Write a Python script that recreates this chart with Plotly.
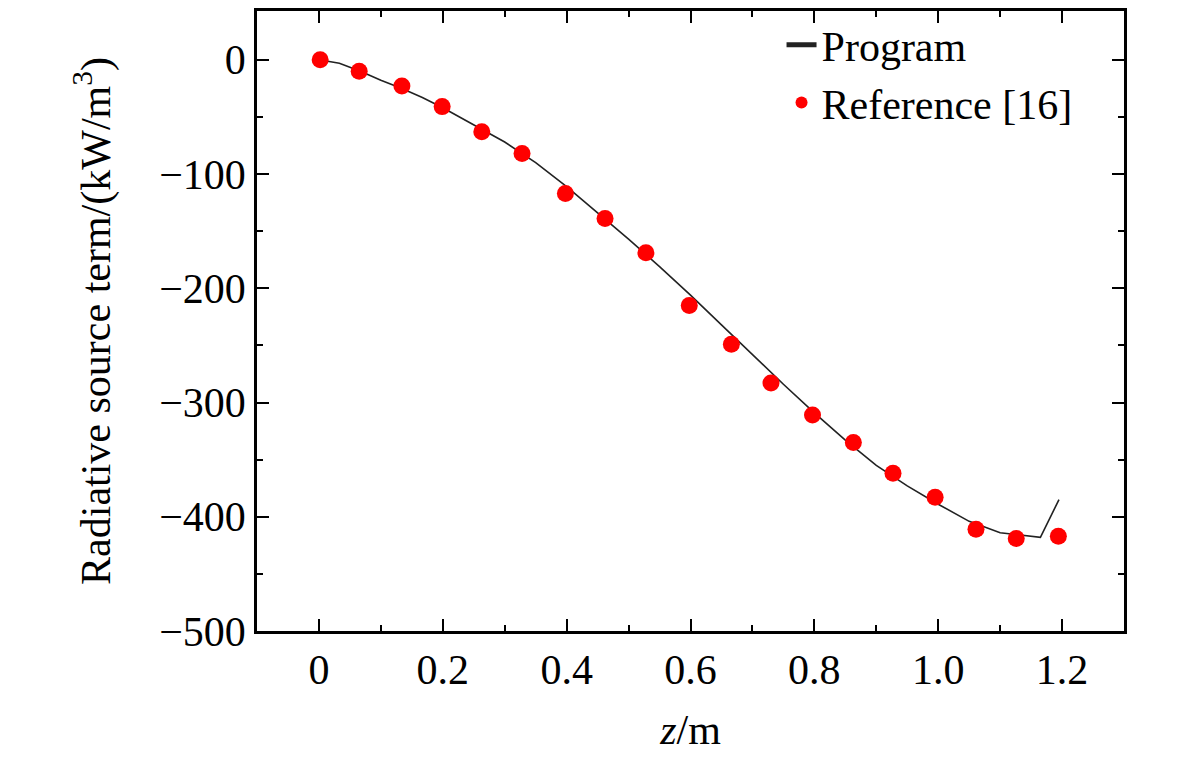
import plotly.graph_objects as go

# program curve
z_prog = [0, 0.033, 0.067, 0.1, 0.133, 0.167, 0.2, 0.25, 0.3, 0.35, 0.4, 0.45,
          0.5, 0.55, 0.6, 0.65, 0.7, 0.75, 0.8, 0.85, 0.9, 0.95, 1.0, 1.05,
          1.1, 1.165, 1.195]
q_prog = [0, -3, -10, -18, -25, -33, -42, -57, -72, -90, -111, -134,
          -157, -181, -206, -232, -258, -284, -309, -333, -355, -373, -389, -404,
          -414, -418, -385]

# reference [16] points
z_ref = [0.002, 0.065, 0.134, 0.199, 0.263, 0.328, 0.398, 0.462, 0.528, 0.598,
         0.666, 0.730, 0.797, 0.863, 0.927, 0.995, 1.061, 1.126, 1.194]
q_ref = [0, -10, -23, -41, -63, -82, -117, -139, -169, -215,
         -249, -283, -311, -335, -362, -383, -411, -419, -417]

font = dict(family="Liberation Serif, Times New Roman, serif", size=42, color="black")

fig = go.Figure()
fig.add_trace(go.Scatter(
    x=z_prog, y=q_prog, mode="lines", name="Program",
    line=dict(color="#222222", width=1.6),
))
fig.add_trace(go.Scatter(
    x=z_ref, y=q_ref, mode="markers", name="Reference [16]",
    marker=dict(color="#ff0000", size=17, line=dict(width=0)),
))

axis_common = dict(
    showline=True, linecolor="black", linewidth=2.5, mirror="ticks",
    ticks="inside", ticklen=12, tickwidth=2, tickcolor="black",
    showgrid=False, zeroline=False, tickfont=font,
)

fig.update_xaxes(
    range=[-0.1, 1.3], tickvals=[0, 0.2, 0.4, 0.6, 0.8, 1.0, 1.2],
    ticktext=["0", "0.2", "0.4", "0.6", "0.8", "1.0", "1.2"],
    minor=dict(ticks="inside", ticklen=6, tickwidth=2, tickcolor="black", dtick=0.1, tick0=0),
    title=dict(text="<i>z</i>/m", font=font, standoff=23),
    **axis_common,
)
fig.update_yaxes(
    range=[-500, 42.7], dtick=100, tick0=0,
    minor=dict(ticks="inside", ticklen=6, tickwidth=2, tickcolor="black", dtick=50, tick0=0),
    title=dict(text="Radiative source term/(kW/m<sup>3</sup>)", font=font, standoff=36),
    **axis_common,
)

fig.update_layout(
    width=1173, height=749,
    margin=dict(l=249, r=57, t=0, b=126),
    plot_bgcolor="white", paper_bgcolor="white",
    font=font,
    legend=dict(x=0.605, y=1.0, xanchor="left", yanchor="top",
                bgcolor="rgba(0,0,0,0)", font=font, itemsizing="constant",
                tracegroupgap=0),
    showlegend=True,
)

fig.write_html("out.html")
